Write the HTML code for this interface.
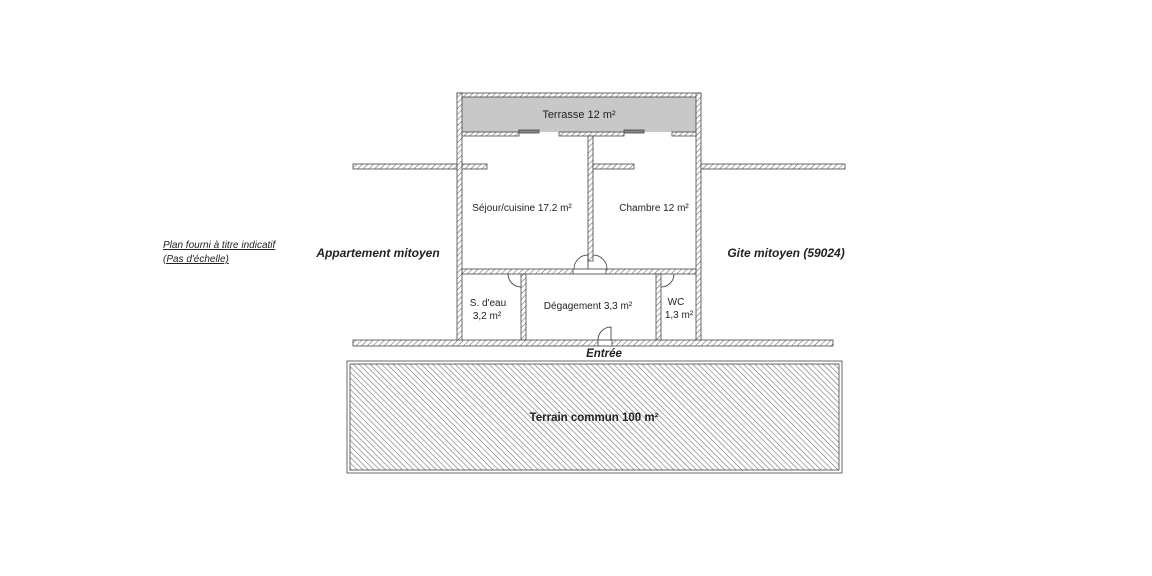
<!DOCTYPE html>
<html><head><meta charset="utf-8"><style>
html,body{margin:0;padding:0;background:#fff;}
svg{display:block}
text{font-family:"Liberation Sans",sans-serif;fill:#222}
</style></head><body>
<svg width="1152" height="576" viewBox="0 0 1152 576" xmlns="http://www.w3.org/2000/svg">
<defs>
<pattern id="w" width="4" height="4" patternUnits="userSpaceOnUse" patternTransform="rotate(45)">
<rect width="4" height="4" fill="#fff"/><line x1="0" y1="0" x2="0" y2="4" stroke="#555" stroke-width="1"/>
</pattern>
<pattern id="t" width="4" height="4" patternUnits="userSpaceOnUse" patternTransform="rotate(-45)">
<rect width="4" height="4" fill="#fff"/><line x1="0" y1="0" x2="0" y2="4" stroke="#666" stroke-width="1.1"/>
</pattern>
</defs>
<g stroke="#444" stroke-width="0.8" fill="url(#w)">
<rect x="461" y="97" width="236" height="35" fill="#c8c8c8" stroke="none"/>
<rect x="457" y="93" width="244" height="4"/>
<rect x="457" y="93" width="5" height="252"/>
<rect x="696" y="93" width="5" height="252"/>
<rect x="462" y="132" width="57" height="4"/>
<rect x="559" y="132" width="65" height="4"/>
<rect x="672" y="132" width="24" height="4"/>
<rect x="519" y="130" width="20" height="3" fill="#888"/>
<rect x="624" y="130" width="20" height="3" fill="#888"/>
<rect x="588" y="136" width="5" height="125"/>
<rect x="353" y="164" width="104" height="5"/>
<rect x="462" y="164" width="25" height="5"/>
<rect x="593" y="164" width="41" height="5"/>
<rect x="701" y="164" width="144" height="5"/>
<rect x="462" y="269" width="111" height="5"/>
<rect x="606" y="269" width="90" height="5"/>
<rect x="521" y="274" width="5" height="66"/>
<rect x="656" y="274" width="5" height="66"/>
<rect x="353" y="340" width="245" height="6"/>
<rect x="612" y="340" width="221" height="6"/>
<rect x="347" y="361" width="495" height="112" fill="#fff"/>
<rect x="350" y="364" width="489" height="106" fill="url(#t)"/>
</g>
<g fill="none" stroke="#333" stroke-width="0.8">
<line x1="573" y1="269" x2="606" y2="269"/><line x1="573" y1="274" x2="606" y2="274"/>
<path d="M574 269 A14 14 0 0 1 588 255 L588 269"/>
<path d="M607 269 A14 14 0 0 0 593 255"/>
<line x1="598" y1="340" x2="612" y2="340"/><line x1="598" y1="346" x2="612" y2="346"/>
<path d="M598 340 A13 13 0 0 1 611 327 L611 340"/>
<path d="M508 274 A13 13 0 0 0 521 287"/>
<path d="M674 274 A13 13 0 0 1 661 287"/>
</g>
<text x="579" y="118" font-size="11" text-anchor="middle">Terrasse 12 m²</text>
<text x="522" y="211" font-size="10" text-anchor="middle">Séjour/cuisine 17.2 m²</text>
<text x="654" y="211" font-size="10" text-anchor="middle">Chambre 12 m²</text>
<text x="488" y="306" font-size="10" text-anchor="middle">S. d'eau</text>
<text x="487" y="319" font-size="10" text-anchor="middle">3,2 m²</text>
<text x="588" y="309" font-size="10" text-anchor="middle">Dégagement 3,3 m²</text>
<text x="676" y="305" font-size="10" text-anchor="middle">WC</text>
<text x="679" y="318" font-size="10" text-anchor="middle">1,3 m²</text>
<text x="604" y="357" font-size="11.5" font-weight="bold" font-style="italic" text-anchor="middle">Entrée</text>
<text x="594" y="421" font-size="11.5" font-weight="bold" text-anchor="middle">Terrain commun 100 m²</text>
<text x="378" y="257" font-size="12" font-weight="bold" font-style="italic" text-anchor="middle">Appartement mitoyen</text>
<text x="786" y="257" font-size="12" font-weight="bold" font-style="italic" text-anchor="middle">Gite mitoyen (59024)</text>
<text x="163" y="248" font-size="10" font-style="italic" text-decoration="underline">Plan fourni à titre indicatif</text>
<text x="163" y="262" font-size="10" font-style="italic" text-decoration="underline">(Pas d'échelle)</text>
</svg>
</body></html>
